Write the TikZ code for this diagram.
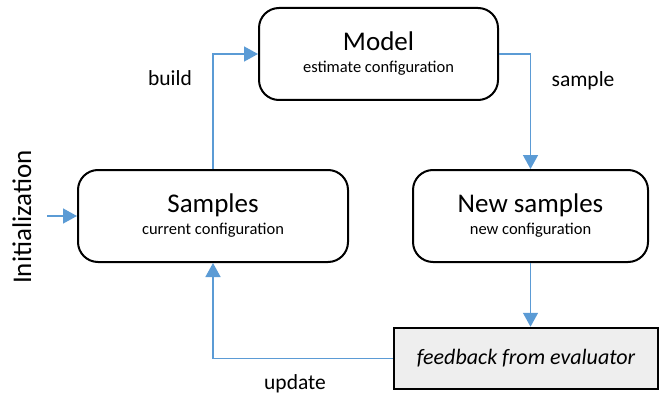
\documentclass[tikz,border=0pt]{standalone}
\usepackage{fontspec}
\setmainfont{Carlito}
\usetikzlibrary{arrows.meta}
\definecolor{flowblue}{RGB}{91,155,213}
\definecolor{fbgray}{RGB}{238,238,238}

\newcommand{\titlesize}{\fontsize{27}{30}\selectfont}
\newcommand{\labelsize}{\fontsize{21.5}{24}\selectfont}

\begin{document}
\begin{tikzpicture}[x=1pt,y=-1pt,
  stage/.style={draw,line width=2pt,rounded corners=20pt,minimum height=92pt,
    align=center,font=\fontsize{16.5}{22}\selectfont},
  flow/.style={draw=flowblue,line width=1.5pt,-{Triangle[length=14pt,width=15pt]}},
  lbl/.style={anchor=base,font=\labelsize}]
  \useasboundingbox (0,0) rectangle (660,393);

  \node[stage,minimum width=239pt] (model) at (378.5,54) {{\titlesize Model}\\estimate configuration};
  \node[stage,minimum width=270pt] (samples) at (213,216) {{\titlesize Samples}\\current configuration};
  \node[stage,minimum width=235pt] (newsamp) at (530.5,216) {{\titlesize New samples}\\new configuration};
  \node[draw,line width=2.5pt,fill=fbgray,minimum width=264pt,minimum height=61pt,
    font=\fontsize{22}{24}\selectfont\itshape] (feedback) at (526,358.5) {feedback from evaluator};

  \node[rotate=90,anchor=base,font=\titlesize] (init) at (31,217) {Initialization};
  \coordinate (start) at (47,216);

  % loop round the four boxes
  \draw[flow] (start) -- (samples.west);
  \draw[flow] (samples.north) |- (model.west);
  \draw[flow] (model.east) -| (newsamp.north);
  \draw[flow] (newsamp.south) -- (newsamp.south |- feedback.north);
  \draw[flow] (feedback.west) -| (samples.south);

  \node[lbl] (build) at (170,85) {build};
  \node[lbl] (sample) at (583,87) {sample};
  \node[lbl] (update) at (295,389) {update};
\end{tikzpicture}
\end{document}
